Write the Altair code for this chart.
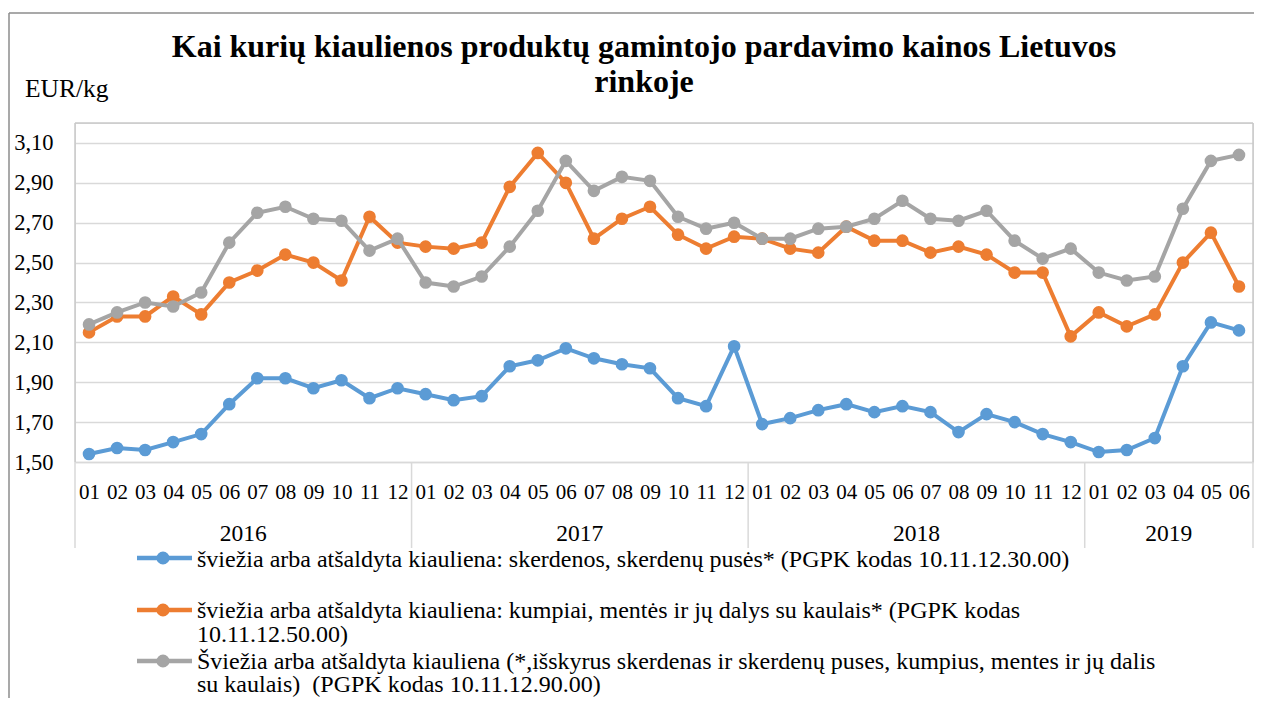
import json
import altair as alt
import pandas as pd

# ---------------- data ----------------
month_labels = ["01", "02", "03", "04", "05", "06", "07", "08", "09", "10", "11", "12",
                "01", "02", "03", "04", "05", "06", "07", "08", "09", "10", "11", "12",
                "01", "02", "03", "04", "05", "06", "07", "08", "09", "10", "11", "12",
                "01", "02", "03", "04", "05", "06"]
year_labels = ["2016", "2017", "2018", "2019"]
months_per_year = [12, 12, 12, 6]
y_ticks = [1.5, 1.7, 1.9, 2.1, 2.3, 2.5, 2.7, 2.9, 3.1]

blue = [1.54, 1.57, 1.56, 1.60, 1.64, 1.79, 1.92, 1.92, 1.87, 1.91, 1.82, 1.87,
        1.84, 1.81, 1.83, 1.98, 2.01, 2.07, 2.02, 1.99, 1.97, 1.82, 1.78, 2.08,
        1.69, 1.72, 1.76, 1.79, 1.75, 1.78, 1.75, 1.65, 1.74, 1.70, 1.64, 1.60,
        1.55, 1.56, 1.62, 1.98, 2.20, 2.16]
orange = [2.15, 2.23, 2.23, 2.33, 2.24, 2.40, 2.46, 2.54, 2.50, 2.41, 2.73, 2.60,
          2.58, 2.57, 2.60, 2.88, 3.05, 2.90, 2.62, 2.72, 2.78, 2.64, 2.57, 2.63,
          2.62, 2.57, 2.55, 2.68, 2.61, 2.61, 2.55, 2.58, 2.54, 2.45, 2.45, 2.13,
          2.25, 2.18, 2.24, 2.50, 2.65, 2.38]
gray = [2.19, 2.25, 2.30, 2.28, 2.35, 2.60, 2.75, 2.78, 2.72, 2.71, 2.56, 2.62,
        2.40, 2.38, 2.43, 2.58, 2.76, 3.01, 2.86, 2.93, 2.91, 2.73, 2.67, 2.70,
        2.62, 2.62, 2.67, 2.68, 2.72, 2.81, 2.72, 2.71, 2.76, 2.61, 2.52, 2.57,
        2.45, 2.41, 2.43, 2.77, 3.01, 3.04]

series_values = [blue, orange, gray]
series_legend = [
    ["šviežia arba atšaldyta kiauliena: skerdenos, skerdenų pusės* (PGPK kodas 10.11.12.30.00)"],
    ["šviežia arba atšaldyta kiauliena: kumpiai, mentės ir jų dalys su kaulais* (PGPK kodas",
     "10.11.12.50.00)"],
    ["Šviežia arba atšaldyta kiauliena (*,išskyrus skerdenas ir skerdenų puses, kumpius, mentes ir jų dalis",
     "su kaulais)\u00a0 (PGPK kodas 10.11.12.90.00)"],
]
colors = ["#5B9BD5", "#ED7D31", "#A5A5A5"]
title_lines = ["Kai kurių kiaulienos produktų gamintojo pardavimo kainos Lietuvos", "rinkoje"]
unit_label = "EUR/kg"

FONT = "Liberation Serif"
GRID = "#d9d9d9"

# ---------------- layout ----------------
W, H = 1178, 339
n = len(month_labels)

x_enc = alt.X("i:Q",
              scale=alt.Scale(domain=[-0.5, n - 0.5], nice=False, zero=False),
              axis=alt.Axis(values=list(range(n)),
                            labelExpr=f"{json.dumps(month_labels)}[datum.value]",
                            title=None, grid=False, ticks=False,
                            domain=True, domainColor=GRID, domainWidth=1.5,
                            labelFont=FONT, labelFontSize=21,
                            labelBaseline="alphabetic", labelPadding=36,
                            labelOverlap=False, labelFlush=False, labelBound=False))
y_enc = alt.Y("v:Q",
              scale=alt.Scale(domain=[1.5, 3.2], nice=False, zero=False),
              axis=alt.Axis(values=y_ticks,
                            labelExpr="replace(format(datum.value, '.2f'), '.', ',')",
                            title=None, grid=True, gridColor=GRID, gridWidth=1.5,
                            ticks=False, domain=False,
                            labelFont=FONT, labelFontSize=22.5,
                            labelPadding=22, labelOverlap=False, labelFlush=False))

layers = []

# title
title_y = [-66, -31]
for line, ty in zip(title_lines, title_y):
    layers.append(alt.Chart(pd.DataFrame({"t": [line]})).mark_text(
        font=FONT, fontSize=32, fontWeight="bold",
        align="center", baseline="alphabetic").encode(
        x=alt.value(569), y=alt.value(ty), text="t:N"))

# unit label
layers.append(alt.Chart(pd.DataFrame({"t": [unit_label]})).mark_text(
    font=FONT, fontSize=25.5, align="left", baseline="alphabetic").encode(
    x=alt.value(-50), y=alt.value(-26), text="t:N"))

# legend text
sym_y = [435, 487, 538]
text_y = [[444], [495, 519], [546, 569]]
for lines, tys in zip(series_legend, text_y):
    for line, ty in zip(lines, tys):
        layers.append(alt.Chart(pd.DataFrame({"t": [line]})).mark_text(
            font=FONT, fontSize=24, align="left", baseline="alphabetic").encode(
            x=alt.value(122), y=alt.value(ty), text="t:N"))

# year separators and year labels
bounds = [-0.5]
centers = []
acc = -0.5
for m in months_per_year:
    centers.append(acc + m / 2)
    acc += m
    bounds.append(acc)
yr_df = pd.DataFrame({"i": centers, "t": year_labels})
layers.append(alt.Chart(yr_df).mark_text(font=FONT, fontSize=23.5,
                                         baseline="alphabetic", align="center").encode(
    x=x_enc, y=alt.value(H + 79), text="t:N"))
sep_df = pd.DataFrame({"i": bounds})
layers.append(alt.Chart(sep_df).mark_rule(color=GRID, strokeWidth=1.5).encode(
    x=x_enc, y=alt.value(H), y2=alt.value(H + 86)))

# plot-area frame (top, left, right edges)
one = pd.DataFrame({"a": [0]})
layers.append(alt.Chart(one).mark_rule(color="#c8c8c8", strokeWidth=1.5).encode(
    x=alt.value(0), x2=alt.value(W), y=alt.value(0)))
layers.append(alt.Chart(one).mark_rule(color="#c8c8c8", strokeWidth=1.5).encode(
    x=alt.value(0), y=alt.value(0), y2=alt.value(H)))
layers.append(alt.Chart(one).mark_rule(color="#c8c8c8", strokeWidth=1.5).encode(
    x=alt.value(W), y=alt.value(0), y2=alt.value(H)))

# series: line + markers, drawn one series after another
for vals, col in zip(series_values, colors):
    df = pd.DataFrame({"i": list(range(n)), "v": vals})
    base = alt.Chart(df).encode(x=x_enc, y=y_enc)
    layers.append(base.mark_line(color=col, strokeWidth=4))
    layers.append(base.mark_point(color=col, filled=True, opacity=1, size=160, shape="circle"))

# legend symbols
for col, sy in zip(colors, sym_y):
    layers.append(alt.Chart(one).mark_rule(color=col, strokeWidth=4.5).encode(
        x=alt.value(62), x2=alt.value(117), y=alt.value(sy)))
    layers.append(alt.Chart(one).mark_point(color=col, filled=True, opacity=1,
                                            size=170, shape="circle").encode(
        x=alt.value(88), y=alt.value(sy)))

# outer frame (left and top edges)
layers.append(alt.Chart(one).mark_rule(color="#8c8c8c", strokeWidth=1.5).encode(
    x=alt.value(-66), y=alt.value(-110), y2=alt.value(H + 240)))
layers.append(alt.Chart(one).mark_rule(color="#8c8c8c", strokeWidth=1.5).encode(
    x=alt.value(-66), x2=alt.value(W + 10), y=alt.value(-110)))

chart = alt.layer(*layers).properties(
    width=W, height=H,
    padding={"left": 67, "top": 115, "right": 1, "bottom": 236},
    autosize=alt.AutoSizeParams(type="none"),
)

chart.save("out.html", embed_options={"renderer": "svg", "actions": False})
